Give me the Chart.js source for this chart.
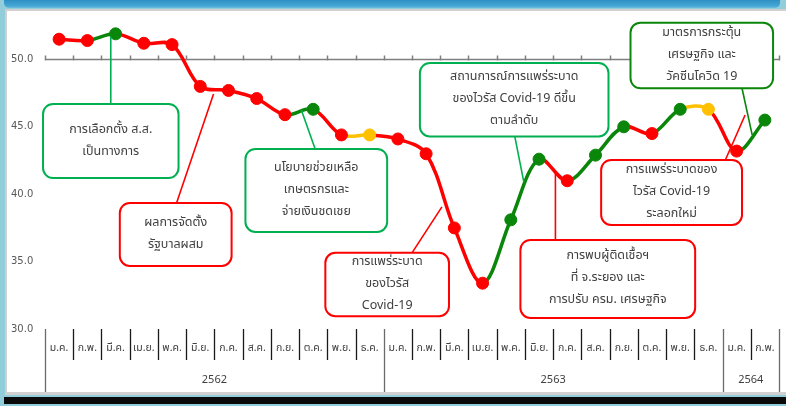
<!DOCTYPE html>
<html>
<head>
<meta charset="utf-8">
<script src="https://cdn.jsdelivr.net/npm/chart.js@4.4.1/dist/chart.umd.min.js"></script>
<style>
  body { margin: 0; background: #92cddc; }
  canvas { display: block; }
</style>
</head>
<body>
<canvas id="confChart" width="786" height="406"></canvas>
<script>
var months = ['ม.ค.', 'ก.พ.', 'มี.ค.', 'เม.ย.', 'พ.ค.', 'มิ.ย.', 'ก.ค.', 'ส.ค.', 'ก.ย.', 'ต.ค.', 'พ.ย.', 'ธ.ค.',
              'ม.ค.', 'ก.พ.', 'มี.ค.', 'เม.ย.', 'พ.ค.', 'มิ.ย.', 'ก.ค.', 'ส.ค.', 'ก.ย.', 'ต.ค.', 'พ.ย.', 'ธ.ค.',
              'ม.ค.', 'ก.พ.'];
var indexValues = [51.5, 51.4, 51.9, 51.2, 51.1, 48.0, 47.7, 47.1, 45.9, 46.3, 44.4, 44.4,
                   44.1, 43.0, 37.5, 33.4, 38.1, 42.6, 41.0, 42.9, 45.0, 44.5, 46.3, 46.3,
                   43.2, 45.5];
var years = ['2562', '2563', '2564'];
var yearSpans = [12, 12, 2];
var yTicks = [30, 35, 40, 45, 50];
var axisCross = 50;

var RED = '#ff0000', GREEN = '#0a860a', YELLOW = '#ffc000';
var FONT = "Tahoma, 'Noto Sans Thai', 'Leelawadee UI', 'DejaVu Sans', sans-serif";

// green = up, red = down, yellow = unchanged
var pointColors = indexValues.map(function(v, i) {
    if (i === 0) return RED;
    var prev = indexValues[i - 1];
    if (v > prev) return GREEN;
    if (v < prev) return RED;
    return YELLOW;
});

// callout boxes, placed in chart units (category index, index value)
var notes = [
    { lines: ['การเลือกตั้ง ส.ส.', 'เป็นทางการ'], box: [-0.57, 4.23, 46.7, 41.2],
      leader: [[1.83, 51.7], [1.83, 46.7]], color: '#00b050' },
    { lines: ['ผลการจัดตั้ง', 'รัฐบาลผสม'], box: [2.15, 6.11, 39.35, 34.68],
      leader: [[5.47, 47.44], [4.16, 39.35]], color: RED },
    { lines: ['นโยบายช่วยเหลือ', 'เกษตรกรและ', 'จ่ายเงินชดเชย'], box: [6.60, 11.62, 43.36, 37.20],
      leader: [[8.58, 46.25], [9.07, 43.36]], color: '#00b050' },
    { lines: ['การแพร่ระบาด', 'ของไวรัส', 'Covid-19'], box: [9.43, 13.81, 35.65, 30.95],
      leader: [[13.56, 39.06], [12.50, 35.65]], color: RED },
    { lines: ['สถานการณ์การแพร่ระบาด', 'ของไวรัส Covid-19 ดีขึ้น', 'ตามลำดับ'], box: [12.78, 19.46, 49.74, 44.29],
      leader: [[16.14, 44.29], [16.46, 40.91]], color: '#00b050' },
    { lines: ['มาตรการกระตุ้น', 'เศรษฐกิจ และ', 'วัคซีนโควิด 19'], box: [20.24, 25.29, 52.73, 47.86],
      leader: [[24.19, 47.86], [24.55, 44.40]], color: '#0a860a' },
    { lines: ['การแพร่ระบาดของ', 'ไวรัส Covid-19', 'ระลอกใหม่'], box: [19.20, 24.19, 42.54, 37.72],
      leader: [[24.30, 45.88], [23.60, 42.54]], color: RED },
    { lines: ['การพบผู้ติดเชื้อฯ', 'ที่ จ.ระยอง และ', 'การปรับ ครม. เศรษฐกิจ'], box: [16.34, 22.53, 36.61, 30.82],
      leader: [[17.58, 41.58], [17.58, 36.61]], color: RED }
];

function roundRect(c, x, y, w, h, r) {
    c.beginPath();
    c.moveTo(x + r, y);
    c.arcTo(x + w, y, x + w, y + h, r);
    c.arcTo(x + w, y + h, x, y + h, r);
    c.arcTo(x, y + h, x, y, r);
    c.arcTo(x, y, x + w, y, r);
    c.closePath();
}

var framePlugin = {
    id: 'frame',
    beforeDraw: function(chart) {
        var c = chart.ctx;
        c.save();
        c.fillStyle = '#92cddc';
        c.fillRect(0, 0, chart.width, chart.height);
        var g = c.createLinearGradient(0, 0, 0, 9);
        g.addColorStop(0, '#2e8fc4');
        g.addColorStop(0.7, '#47a9d6');
        g.addColorStop(1, '#8cc8e0');
        c.fillStyle = g;
        roundRect(c, 4, -6, chart.width - 10, 14, 5);
        c.fill();
        c.fillStyle = '#d0d0d0';
        c.fillRect(5, 9, chart.width - 5, 386);
        c.fillStyle = '#ffffff';
        c.fillRect(7, 11, chart.width - 7, 381);
        c.fillStyle = '#0a0a0a';
        c.fillRect(4, 397, chart.width - 4, 7);
        c.restore();
    },
    beforeDatasetsDraw: function(chart) {
        var c = chart.ctx, xs = chart.scales.x, ys = chart.scales.y;
        var half = (xs.getPixelForValue(1) - xs.getPixelForValue(0)) / 2;
        var y0 = ys.getPixelForValue(axisCross);
        c.save();
        c.strokeStyle = '#7f7f7f';
        c.lineWidth = 1.5;
        c.beginPath();
        c.moveTo(xs.left, y0);
        c.lineTo(xs.right, y0);
        for (var i = 0; i <= months.length; i++) {
            var bx = Math.round(xs.getPixelForValue(i) - half) + 0.5;
            c.moveTo(bx, y0 - 4);
            c.lineTo(bx, y0 + 1);
        }
        c.stroke();
        c.restore();
    },
    afterDatasetsDraw: function(chart) {
        var c = chart.ctx, xs = chart.scales.x, ys = chart.scales.y;
        var half = (xs.getPixelForValue(1) - xs.getPixelForValue(0)) / 2;
        var bottom = ys.getPixelForValue(yTicks[0]);
        c.save();

        // month row + year row
        var yearEdges = [0];
        yearSpans.forEach(function(n) { yearEdges.push(yearEdges[yearEdges.length - 1] + n); });
        c.lineWidth = 1.3;
        for (var i = 0; i <= months.length; i++) {
            var bx = Math.round(xs.getPixelForValue(i) - half) + 0.5;
            var isYear = yearEdges.indexOf(i) >= 0;
            c.strokeStyle = isYear ? '#6a6a6a' : '#1a1a1a';
            c.beginPath();
            c.moveTo(bx, bottom);
            c.lineTo(bx, isYear ? 392 : bottom + 31);
            c.stroke();
        }
        c.fillStyle = '#404040';
        c.textAlign = 'center';
        c.textBaseline = 'middle';
        c.font = '10.5px ' + FONT;
        months.forEach(function(m, i) {
            c.fillText(m, xs.getPixelForValue(i), bottom + 20);
        });
        c.font = '11px ' + FONT;
        years.forEach(function(yr, k) {
            var a = xs.getPixelForValue(yearEdges[k]) - half;
            var b = xs.getPixelForValue(yearEdges[k + 1]) - half;
            c.fillText(yr, (a + b) / 2, bottom + 52);
        });

        // callouts
        notes.forEach(function(n) {
            c.strokeStyle = n.color;
            c.lineWidth = 1.6;
            c.beginPath();
            c.moveTo(xs.getPixelForValue(n.leader[0][0]), ys.getPixelForValue(n.leader[0][1]));
            c.lineTo(xs.getPixelForValue(n.leader[1][0]), ys.getPixelForValue(n.leader[1][1]));
            c.stroke();
            var x1 = xs.getPixelForValue(n.box[0]), x2 = xs.getPixelForValue(n.box[1]);
            var y1 = ys.getPixelForValue(n.box[2]), y2 = ys.getPixelForValue(n.box[3]);
            roundRect(c, x1, y1, x2 - x1, y2 - y1, 10);
            c.fillStyle = '#ffffff';
            c.fill();
            c.lineWidth = 2;
            c.stroke();
            c.fillStyle = '#404040';
            c.font = '12.5px ' + FONT;
            var lh = 22;
            var top = (y1 + y2) / 2 - (n.lines.length - 1) * lh / 2;
            n.lines.forEach(function(t, j) {
                c.fillText(t, (x1 + x2) / 2, top + j * lh);
            });
        });
        c.restore();
    }
};

var ctx = document.getElementById('confChart').getContext('2d');
var confChart = new Chart(ctx, {
    type: 'line',
    data: {
        labels: months,
        datasets: [{
            data: indexValues,
            borderWidth: 3.5,
            tension: 0.35,
            pointRadius: 6,
            pointHoverRadius: 6,
            pointBackgroundColor: pointColors,
            pointBorderColor: pointColors,
            pointBorderWidth: 1,
            segment: {
                borderColor: function(s) { return pointColors[s.p1DataIndex]; }
            }
        }]
    },
    options: {
        responsive: false,
        animation: false,
        devicePixelRatio: 1,
        layout: { padding: { left: 11, right: 5, top: 19, bottom: 77 } },
        plugins: {
            legend: { display: false },
            tooltip: { enabled: false }
        },
        scales: {
            x: {
                display: false,
                offset: true
            },
            y: {
                min: 30,
                max: 53,
                afterBuildTicks: function(scale) {
                    scale.ticks = yTicks.map(function(v) { return { value: v }; });
                },
                afterFit: function(scale) { scale.width = 34; },
                grid: { display: false },
                border: { display: false },
                ticks: {
                    crossAlign: 'far',
                    color: '#595959',
                    font: { family: "'DejaVu Sans', sans-serif", size: 10 },
                    callback: function(v) { return Number(v).toFixed(1); }
                }
            }
        }
    },
    plugins: [framePlugin]
});
</script>
</body>
</html>
